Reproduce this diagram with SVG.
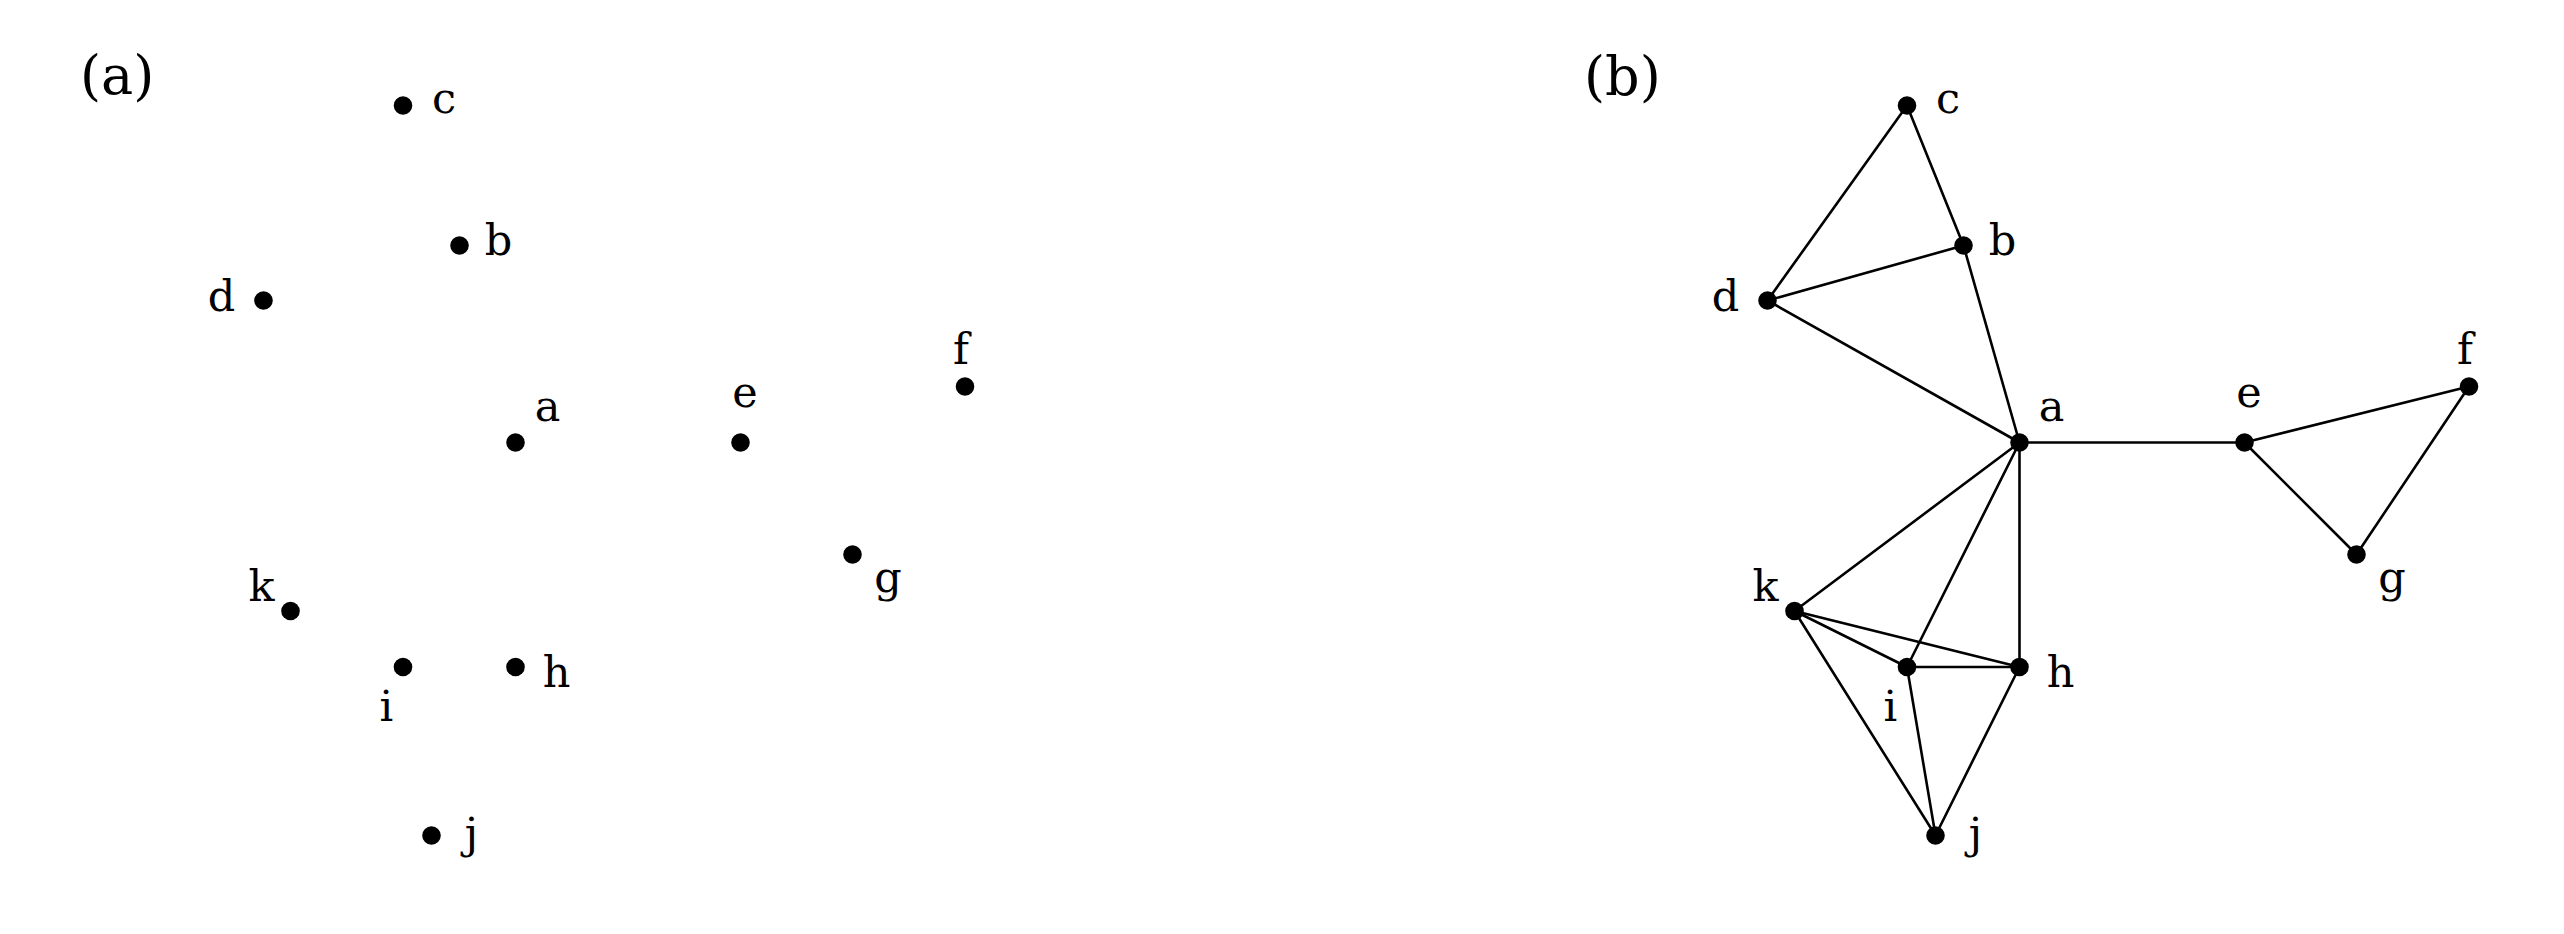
<svg xmlns="http://www.w3.org/2000/svg" width="2564" height="934" viewBox="0 0 2564 934">
<style>
text{font-family:"DejaVu Serif","Liberation Serif",serif;fill:#000}
.lbl{font-size:43px;text-anchor:middle}
.panel{font-size:54px}
.dot{fill:#000}
.edge{stroke:#000;stroke-width:2.6;fill:none;stroke-linecap:round}
</style>
<rect width="2564" height="934" fill="#fff"/>
<g id="panel-a">
<text class="panel" x="80" y="94">(a)</text>
<g id="a-c"><circle class="dot" cx="403" cy="105.5" r="9.3"/><text class="lbl" x="444" y="113">c</text></g>
<g id="a-b"><circle class="dot" cx="459.5" cy="245.5" r="9.3"/><text class="lbl" x="498.5" y="255">b</text></g>
<g id="a-d"><circle class="dot" cx="263.5" cy="300.5" r="9.3"/><text class="lbl" x="221.5" y="311">d</text></g>
<g id="a-a"><circle class="dot" cx="515.5" cy="442.5" r="9.3"/><text class="lbl" x="547.5" y="421">a</text></g>
<g id="a-e"><circle class="dot" cx="740.5" cy="442.5" r="9.3"/><text class="lbl" x="745" y="407">e</text></g>
<g id="a-f"><circle class="dot" cx="965" cy="386.5" r="9.3"/><text class="lbl" x="961" y="364">f</text></g>
<g id="a-g"><circle class="dot" cx="852.5" cy="554.5" r="9.3"/><text class="lbl" x="888" y="592">g</text></g>
<g id="a-k"><circle class="dot" cx="290.5" cy="611" r="9.3"/><text class="lbl" x="261.5" y="601">k</text></g>
<g id="a-i"><circle class="dot" cx="403" cy="667" r="9.3"/><text class="lbl" x="386.5" y="721">i</text></g>
<g id="a-h"><circle class="dot" cx="515.5" cy="667" r="9.3"/><text class="lbl" x="556.5" y="687">h</text></g>
<g id="a-j"><circle class="dot" cx="431.5" cy="835.5" r="9.3"/><text class="lbl" x="471.5" y="848">j</text></g>
</g>
<g id="panel-b">
<text class="panel" x="1584" y="95">(b)</text>
<g id="connectors">
<line class="edge" x1="1907" y1="105.5" x2="1767.5" y2="300.5"/>
<line class="edge" x1="1907" y1="105.5" x2="1963.5" y2="245.5"/>
<line class="edge" x1="1963.5" y1="245.5" x2="1767.5" y2="300.5"/>
<line class="edge" x1="1767.5" y1="300.5" x2="2019.5" y2="442.5"/>
<line class="edge" x1="1963.5" y1="245.5" x2="2019.5" y2="442.5"/>
<line class="edge" x1="2019.5" y1="442.5" x2="2244.5" y2="442.5"/>
<line class="edge" x1="2244.5" y1="442.5" x2="2469" y2="386.5"/>
<line class="edge" x1="2244.5" y1="442.5" x2="2356.5" y2="554.5"/>
<line class="edge" x1="2469" y1="386.5" x2="2356.5" y2="554.5"/>
<line class="edge" x1="2019.5" y1="442.5" x2="1794.5" y2="611"/>
<line class="edge" x1="2019.5" y1="442.5" x2="1907" y2="667"/>
<line class="edge" x1="2019.5" y1="442.5" x2="2019.5" y2="667"/>
<line class="edge" x1="1794.5" y1="611" x2="1907" y2="667"/>
<line class="edge" x1="1794.5" y1="611" x2="2019.5" y2="667"/>
<line class="edge" x1="1794.5" y1="611" x2="1935.5" y2="835.5"/>
<line class="edge" x1="1907" y1="667" x2="2019.5" y2="667"/>
<line class="edge" x1="1907" y1="667" x2="1935.5" y2="835.5"/>
<line class="edge" x1="2019.5" y1="667" x2="1935.5" y2="835.5"/>
</g>
<g id="b-c"><circle class="dot" cx="1907" cy="105.5" r="9.3"/><text class="lbl" x="1948" y="113">c</text></g>
<g id="b-b"><circle class="dot" cx="1963.5" cy="245.5" r="9.3"/><text class="lbl" x="2002.5" y="255">b</text></g>
<g id="b-d"><circle class="dot" cx="1767.5" cy="300.5" r="9.3"/><text class="lbl" x="1725.5" y="311">d</text></g>
<g id="b-a"><circle class="dot" cx="2019.5" cy="442.5" r="9.3"/><text class="lbl" x="2051.5" y="421">a</text></g>
<g id="b-e"><circle class="dot" cx="2244.5" cy="442.5" r="9.3"/><text class="lbl" x="2249" y="407">e</text></g>
<g id="b-f"><circle class="dot" cx="2469" cy="386.5" r="9.3"/><text class="lbl" x="2465" y="364">f</text></g>
<g id="b-g"><circle class="dot" cx="2356.5" cy="554.5" r="9.3"/><text class="lbl" x="2392" y="592">g</text></g>
<g id="b-k"><circle class="dot" cx="1794.5" cy="611" r="9.3"/><text class="lbl" x="1765.5" y="601">k</text></g>
<g id="b-i"><circle class="dot" cx="1907" cy="667" r="9.3"/><text class="lbl" x="1890.5" y="721">i</text></g>
<g id="b-h"><circle class="dot" cx="2019.5" cy="667" r="9.3"/><text class="lbl" x="2060.5" y="687">h</text></g>
<g id="b-j"><circle class="dot" cx="1935.5" cy="835.5" r="9.3"/><text class="lbl" x="1975.5" y="848">j</text></g>
</g>
</svg>
